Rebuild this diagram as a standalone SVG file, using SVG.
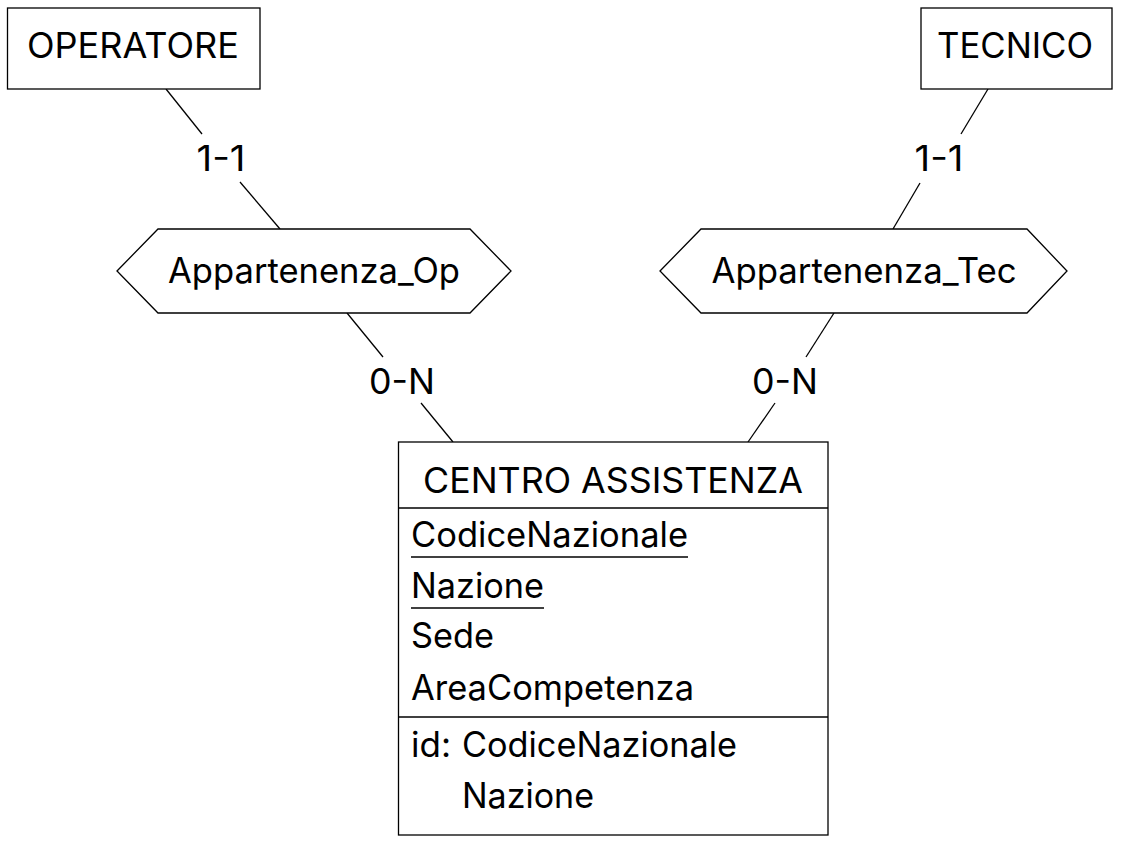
<svg xmlns="http://www.w3.org/2000/svg" width="1122" height="844" viewBox="0 0 1122 844">
<style>
.b{fill:#fff;stroke:#000;stroke-width:1.3}
.l{stroke:#000;stroke-width:1.3;fill:none}
text{font-family:Inter,"Liberation Sans",sans-serif;font-size:35px;fill:#000}
.c{text-anchor:middle}
</style>
<rect width="1122" height="844" fill="#fff"/>
<g id="connectors">
<line class="l" x1="166" y1="89" x2="202" y2="134"/>
<line class="l" x1="240" y1="182" x2="280" y2="229"/>
<text class="c" x="221" y="171" textLength="49" lengthAdjust="spacingAndGlyphs">1-1</text>
<line class="l" x1="988" y1="89" x2="961" y2="134"/>
<line class="l" x1="920" y1="183" x2="893" y2="229"/>
<text class="c" x="939" y="171" textLength="49" lengthAdjust="spacingAndGlyphs">1-1</text>
<line class="l" x1="347" y1="313" x2="383" y2="357"/>
<line class="l" x1="421" y1="403" x2="453" y2="442"/>
<text class="c" x="402" y="394" textLength="66" lengthAdjust="spacingAndGlyphs">0-N</text>
<line class="l" x1="834" y1="313" x2="806" y2="357"/>
<line class="l" x1="775" y1="403" x2="748" y2="442"/>
<text class="c" x="785" y="394" textLength="66" lengthAdjust="spacingAndGlyphs">0-N</text>
</g>
<g id="operatore">
<rect class="b" x="7.5" y="8" width="252.5" height="81"/>
<text class="c" x="133" y="58" textLength="212" lengthAdjust="spacingAndGlyphs">OPERATORE</text>
</g>
<g id="tecnico">
<rect class="b" x="921" y="8" width="191" height="81"/>
<text class="c" x="1015" y="58" textLength="156" lengthAdjust="spacingAndGlyphs">TECNICO</text>
</g>
<g id="appartenenza_op">
<polygon class="b" points="117,271 158,229 470,229 511,271 470,313 158,313"/>
<text class="c" x="314" y="283" textLength="292" lengthAdjust="spacingAndGlyphs">Appartenenza_Op</text>
</g>
<g id="appartenenza_tec">
<polygon class="b" points="660,271 701,229 1027,229 1067,271 1027,313 701,313"/>
<text class="c" x="864" y="283" textLength="305" lengthAdjust="spacingAndGlyphs">Appartenenza_Tec</text>
</g>
<g id="centro_assistenza">
<rect class="b" x="398.5" y="442" width="429.5" height="393"/>
<line class="l" x1="398.5" y1="508" x2="828" y2="508"/>
<line class="l" x1="398.5" y1="717" x2="828" y2="717"/>
<text class="c" x="613" y="493" textLength="380" lengthAdjust="spacingAndGlyphs">CENTRO ASSISTENZA</text>
<text x="411" y="547" textLength="277" lengthAdjust="spacingAndGlyphs">CodiceNazionale</text>
<line class="l" x1="411" y1="557" x2="688" y2="557" stroke-width="2"/>
<text x="411" y="598" textLength="133" lengthAdjust="spacingAndGlyphs">Nazione</text>
<line class="l" x1="411" y1="608" x2="544" y2="608" stroke-width="2"/>
<text x="411" y="648" textLength="83" lengthAdjust="spacingAndGlyphs">Sede</text>
<text x="411" y="700" textLength="283" lengthAdjust="spacingAndGlyphs">AreaCompetenza</text>
<text x="411" y="757">id:</text>
<text x="462" y="757" textLength="275" lengthAdjust="spacingAndGlyphs">CodiceNazionale</text>
<text x="462" y="808" textLength="132" lengthAdjust="spacingAndGlyphs">Nazione</text>
</g>
</svg>
